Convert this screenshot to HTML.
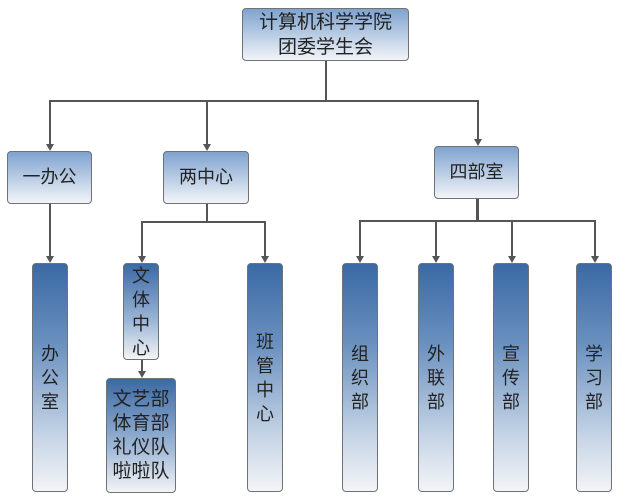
<!DOCTYPE html>
<html><head><meta charset="utf-8"><style>
body{margin:0;width:626px;height:499px;background:#fff;position:relative;overflow:hidden;font-family:"Liberation Sans","Noto Sans CJK SC",sans-serif;color:#222}
.b{position:absolute;box-sizing:border-box;border:1.5px solid #6f7276;border-radius:4px;display:flex;align-items:center;justify-content:center;text-align:center;font-size:18px;line-height:23px}
.h{background:linear-gradient(#7fa3cf,#f2f4f8)}
.v{background:linear-gradient(#3a69a4,#6a90bf 35%,#c4d3e5 75%,#f3f4f6);line-height:24px;width:36px}
.l{position:absolute;background:#555}
.a{position:absolute;width:0;height:0;border-left:4px solid transparent;border-right:4px solid transparent;border-top:7px solid #555}
</style></head><body>
<div class="b h" style="left:242px;top:8px;width:167px;height:53px;font-size:19px;line-height:25px">计算机科学学院<br>团委学生会</div>
<div class="l" style="left:325px;top:61px;width:2px;height:41px"></div>
<div class="l" style="left:49px;top:100px;width:429px;height:2px"></div>
<div class="l" style="left:49px;top:100px;width:1.5px;height:45px"></div><div class="a" style="left:46px;top:144px"></div>
<div class="l" style="left:206px;top:100px;width:1.5px;height:45px"></div><div class="a" style="left:203px;top:144px"></div>
<div class="l" style="left:477px;top:100px;width:1.5px;height:40px"></div><div class="a" style="left:474px;top:139px"></div>
<div class="b h" style="left:7px;top:151px;width:85px;height:53px">一办公</div>
<div class="b h" style="left:163px;top:151px;width:86px;height:53px">两中心</div>
<div class="b h" style="left:434px;top:146px;width:85px;height:53px">四部室</div>
<div class="l" style="left:49px;top:204px;width:1.5px;height:53px"></div><div class="a" style="left:46px;top:256px"></div>
<div class="l" style="left:206px;top:204px;width:1.5px;height:18px"></div>
<div class="l" style="left:141px;top:221px;width:125px;height:1.5px"></div>
<div class="l" style="left:141px;top:221px;width:1.5px;height:36px"></div><div class="a" style="left:138px;top:256px"></div>
<div class="l" style="left:264px;top:221px;width:1.5px;height:36px"></div><div class="a" style="left:261px;top:256px"></div>
<div class="l" style="left:141px;top:360px;width:1.5px;height:12px"></div><div class="a" style="left:138px;top:371px"></div>
<div class="l" style="left:476px;top:199px;width:2.5px;height:22px"></div>
<div class="l" style="left:359px;top:220px;width:236px;height:1.5px"></div>
<div class="l" style="left:359px;top:220px;width:1.5px;height:37px"></div><div class="a" style="left:356px;top:256px"></div>
<div class="l" style="left:435px;top:220px;width:1.5px;height:37px"></div><div class="a" style="left:432px;top:256px"></div>
<div class="l" style="left:511px;top:220px;width:1.5px;height:37px"></div><div class="a" style="left:508px;top:256px"></div>
<div class="l" style="left:594px;top:220px;width:1.5px;height:37px"></div><div class="a" style="left:591px;top:256px"></div>
<div class="b v" style="left:32px;top:263px;height:229px">办<br>公<br>室</div>
<div class="b v" style="left:123px;top:263px;height:97px;background:linear-gradient(#3a69a4,#9db6d6 60%,#f3f4f6)">文<br>体<br>中<br>心</div>
<div class="b v" style="left:106px;top:378px;width:70px;height:115px;background:linear-gradient(#3a69a4,#9db6d6 60%,#f3f4f6);font-size:19px">文艺部<br>体育部<br>礼仪队<br>啦啦队</div>
<div class="b v" style="left:247px;top:263px;height:229px">班<br>管<br>中<br>心</div>
<div class="b v" style="left:342px;top:263px;height:229px">组<br>织<br>部</div>
<div class="b v" style="left:418px;top:263px;height:229px">外<br>联<br>部</div>
<div class="b v" style="left:493px;top:263px;height:229px">宣<br>传<br>部</div>
<div class="b v" style="left:576px;top:263px;height:229px">学<br>习<br>部</div>
</body></html>
